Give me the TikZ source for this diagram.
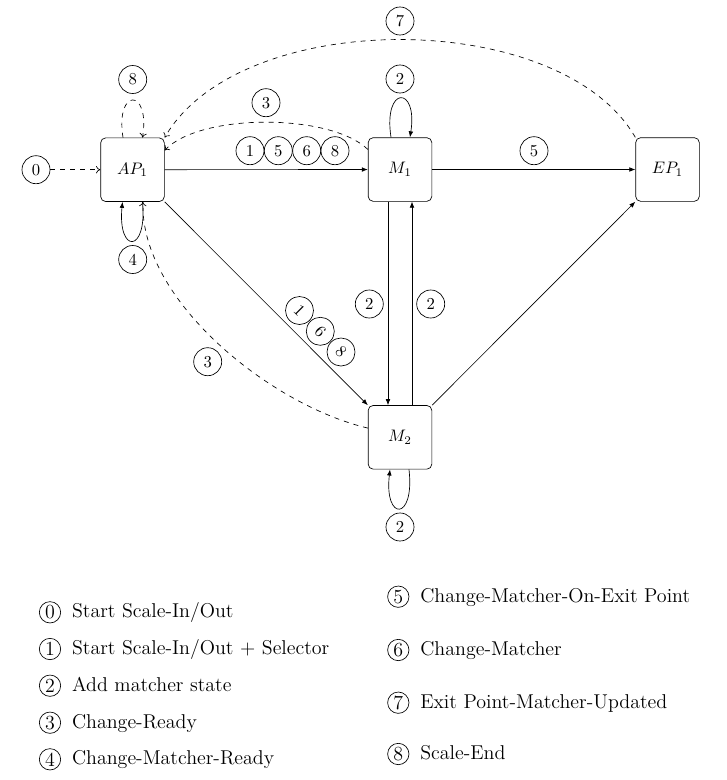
\documentclass[tikz,border=0pt]{standalone}
\usetikzlibrary{arrows.meta}
\begin{document}
\begin{tikzpicture}[x=0.6pt,y=-0.6pt,
  box/.style={draw, rounded corners=3pt, minimum size=38.2pt, inner sep=0pt},
  lab/.style={draw, circle, minimum size=16.8pt, inner sep=0pt},
  sarr/.style={-{Latex[length=3.6pt,width=2.8pt]}},
  darr/.style={dashed, -{To[length=2.6pt,width=4.4pt]}},
  lgc/.style={draw, circle, minimum size=12.8pt, inner sep=0pt, font=\large},
  lgt/.style={anchor=base west, inner sep=0pt, font=\large}]
\useasboundingbox (0,0) rectangle (727,780);

% states
\node[box] (AP1) at (132.5,169.7) {$AP_1$};
\node[box] (M1) at (400,169.5) {$M_1$};
\node[box] (EP1) at (667.5,169.5) {$EP_1$};
\node[box] (M2) at (400,437.3) {$M_2$};

% edge labels
\node[lab] (c0) at (36,169.7) {0};
\node[lab] (c8a) at (132.7,79.5) {8};
\node[lab] (c4) at (132.7,259.5) {4};
\node[lab] (c3a) at (266,102.7) {3};
\node[lab] (c1) at (250,150.7) {1};
\node[lab] (c5) at (278.3,150.7) {5};
\node[lab] (c6) at (306.7,150.7) {6};
\node[lab] (c8b) at (335,150.7) {8};
\node[lab] (c5b) at (534,150.7) {5};
\node[lab] (c7) at (400,21) {7};
\node[lab] (c2a) at (400,79) {2};
\node[lab] (c2b) at (369.3,304) {2};
\node[lab] (c2c) at (430.7,304) {2};
\node[lab, rotate=-45] (c1d) at (299.5,310.5) {1};
\node[lab, rotate=-45] (c6d) at (320.3,331.3) {6};
\node[lab, rotate=-45] (c8d) at (341,352) {8};
\node[lab] (c3b) at (207.7,361.7) {3};
\node[lab] (c2d) at (400,527) {2};

% connectors
\draw[darr] (c0) -- (AP1);
\draw[sarr] (AP1) -- (M1);
\draw[sarr] (M1) -- (EP1);
\draw[sarr] (AP1.south east) -- (M2.north west);
\draw[sarr] ([xshift=-7.2pt]M1.south) -- ([xshift=-7.2pt]M2.north);
\draw[sarr] ([xshift=7.2pt]M2.north) -- ([xshift=7.2pt]M1.south);
\draw[sarr] (M2.north east) -- (EP1.south west);

\draw[darr] ([xshift=-5.7pt]AP1.north) .. controls +(-8,-50) and +(8,-50) .. ([xshift=6pt]AP1.north);
\draw[sarr] ([xshift=6pt]AP1.south) .. controls +(5,52) and +(-5,52) .. ([xshift=-6pt]AP1.south);
\draw[sarr] ([xshift=-5.4pt]M1.north) .. controls +(-8,-52) and +(8,-52) .. ([xshift=6pt]M1.north);
\draw[sarr] ([xshift=5.4pt]M2.south) .. controls +(6,52) and +(-6,52) .. ([xshift=-6pt]M2.south);

\draw[darr] (M1.148) .. controls (330,113) and (200,113) .. (AP1.31);
\draw[darr] (EP1.north west) .. controls (560,7) and (240,7) .. (AP1.north east);
\draw[darr] (M2.164) .. controls (270,405) and (140,300) .. (AP1.-72);

% legend
\node[lgc] (l0) at (50,612.3) {0};
\node[lgt] (t0) at (71.7,617.7) {Start Scale-In/Out};
\node[lgc] (l1) at (50,649) {1};
\node[lgt] (t1) at (71.7,654.4) {Start Scale-In/Out + Selector};
\node[lgc] (l2) at (50,685.7) {2};
\node[lgt] (t2) at (71.7,691.1) {Add matcher state};
\node[lgc] (l3) at (50,722.7) {3};
\node[lgt] (t3) at (71.7,728.1) {Change-Ready};
\node[lgc] (l4) at (50,759.3) {4};
\node[lgt] (t4) at (71.7,764.7) {Change-Matcher-Ready};

\node[lgc] (l5) at (398.3,596.7) {5};
\node[lgt] (t5) at (420,602.1) {Change-Matcher-On-Exit Point};
\node[lgc] (l6) at (398.3,650) {6};
\node[lgt] (t6) at (420,655.4) {Change-Matcher};
\node[lgc] (l7) at (398.3,702.7) {7};
\node[lgt] (t7) at (420,708.1) {Exit Point-Matcher-Updated};
\node[lgc] (l8) at (398.3,754) {8};
\node[lgt] (t8) at (420,759.4) {Scale-End};
\end{tikzpicture}
\end{document}
